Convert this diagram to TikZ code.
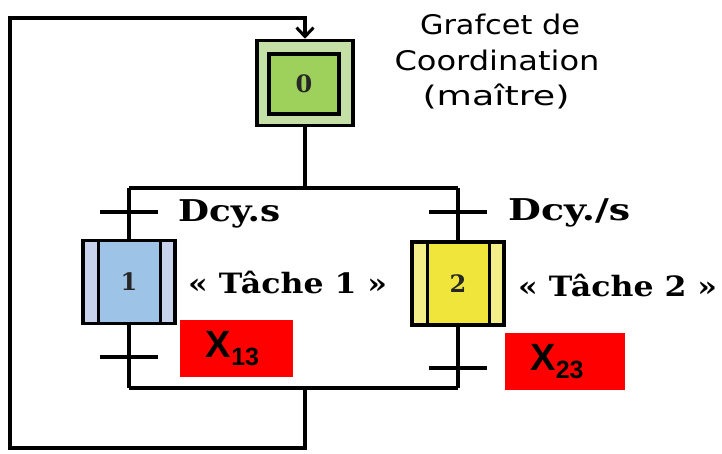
\documentclass[tikz,border=0pt]{standalone}
\usepackage{fontspec}
\setmainfont{DejaVu Serif}
\newfontfamily\handfont{DejaVu Sans}
\newfontfamily\boxfont{Liberation Sans}
\usetikzlibrary{arrows.meta}

\definecolor{greenband}{HTML}{C4E0A6}
\definecolor{greenfill}{HTML}{9ED05C}
\definecolor{blueband}{HTML}{C8D2EC}
\definecolor{bluefill}{HTML}{9DC3E6}
\definecolor{yellowband}{HTML}{F4EE88}
\definecolor{yellowfill}{HTML}{F0E53A}
\definecolor{alarmred}{HTML}{FF0000}

\tikzset{
  conn/.style={line width=3.6pt, black},
  stepnum/.style={font=\bfseries\fontsize{24}{24}\selectfont, text=black!85},
  taskstep/.style 2 args={draw, line width=3.5pt, fill=#1,
    minimum width=92pt, minimum height=83pt, inner sep=0pt, stepnum,
    path picture={
      \fill[#2] ([xshift=15pt]path picture bounding box.north west)
        rectangle ([xshift=-15pt]path picture bounding box.south east);
      \draw[line width=3pt]
        ([xshift=15pt]path picture bounding box.north west) --
        ([xshift=15pt]path picture bounding box.south west);
      \draw[line width=3pt]
        ([xshift=-15pt]path picture bounding box.north east) --
        ([xshift=-15pt]path picture bounding box.south east);
    }},
  condlabel/.style={font=\bfseries\fontsize{30}{30}\selectfont, inner sep=0pt, anchor=base west},
  tasklabel/.style={font=\bfseries\fontsize{28}{28}\selectfont, inner sep=0pt, anchor=base west},
  alarm/.style={fill=alarmred, minimum height=57pt, inner sep=0pt,
    font=\boxfont\bfseries},
  titleline/.style={font=\handfont\fontsize{27}{27}\selectfont,
    inner sep=0pt, anchor=base},
}

\newcommand{\xsub}[2]{\fontsize{38}{38}\selectfont #1\raisebox{-8pt}{\fontsize{25}{25}\selectfont #2}}
\newcommand{\widthto}[2]{\resizebox{#1}{\height}{#2}}

\begin{document}
\begin{tikzpicture}[x=1pt,y=-1pt]
  \useasboundingbox (0,0) rectangle (722,454);
  \fill[white] (0,0) rectangle (722,454);

  % master step 0
  \node[draw, line width=3.5pt, fill=greenband, minimum width=96pt,
        minimum height=85pt, inner sep=0pt] (s0) at (305,83) {};
  \node[draw, line width=3.5pt, fill=greenfill, minimum width=70pt,
        minimum height=60pt, inner sep=0pt, stepnum] (s0i) at (304,84) {0};

  % task steps
  \node[taskstep={blueband}{bluefill}] (s1) at (129,282) {1};
  \node[taskstep={yellowband}{yellowfill}] (s2) at (458,283.5) {2};

  % divergence / convergence points
  \coordinate (divL) at (129,188);
  \coordinate (divM) at (305,188);
  \coordinate (divR) at (458,188);
  \coordinate (convL) at (129,388);
  \coordinate (convM) at (305,388);
  \coordinate (convR) at (458,388);
  \coordinate (loopBL) at (10,448);
  \coordinate (loopTL) at (10,18);

  % transitions
  \coordinate (t1) at (129,212);
  \coordinate (t2) at (458,212);
  \coordinate (t3) at (129,357);
  \coordinate (t4) at (458,368);

  % links
  \draw[conn] (s0.south) -- (divM);
  \draw[conn] (divL) -- (divR);
  \draw[conn] (divL) -- (s1.north);
  \draw[conn] (divR) -- (s2.north);
  \draw[conn] (s1.south) -- (convL);
  \draw[conn] (s2.south) -- (convR);
  \draw[conn] (convL) -- (convR);
  \draw[conn, -{Straight Barb[length=9pt, width=17pt, line width=3pt]}]
    (convM) |- (loopBL) -- (loopTL) -| (s0.north);

  % transition bars
  \foreach \t in {t1,t2,t3,t4}
    \draw[conn] (\t) ++(-29,0) -- ++(58,0);

  % receptivities and actions
  \node[condlabel] (c1) at (178,222) {\widthto{102pt}{Dcy.s}};
  \node[condlabel] (c2) at (508,221) {\widthto{122pt}{Dcy./s}};
  \node[tasklabel] (a1) at (188,293) {\widthto{199pt}{« Tâche 1 »}};
  \node[tasklabel] (a2) at (518,296) {\widthto{199pt}{« Tâche 2 »}};

  % step activity flags
  \node[alarm, minimum width=113pt] (x13) at (236.5,348.5) {\xsub{X}{13}\hspace*{8pt}};
  \node[alarm, minimum width=120pt] (x23) at (565,361.5) {\xsub{X}{23}\hspace*{16pt}};

  % title
  \node[titleline] (title1) at (500,35) {\widthto{160pt}{Grafcet de}};
  \node[titleline] (title2) at (497,71) {\widthto{205pt}{Coordination}};
  \node[titleline] (title3) at (496,106) {\widthto{147pt}{(maître)}};
\end{tikzpicture}
\end{document}
